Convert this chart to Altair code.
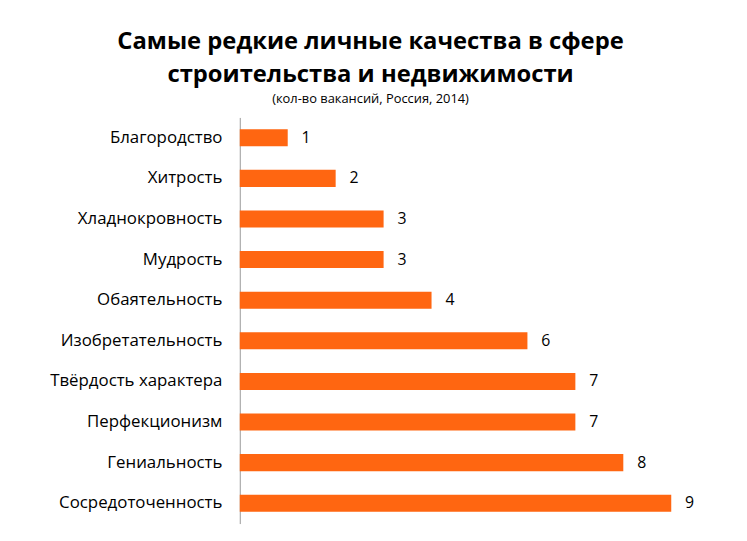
import altair as alt
import pandas as pd

cats = ["Благородство", "Хитрость", "Хладнокровность", "Мудрость", "Обаятельность",
        "Изобретательность", "Твёрдость характера", "Перфекционизм", "Гениальность",
        "Сосредоточенность"]
vals = [1, 2, 3, 3, 4, 6, 7, 7, 8, 9]
df = pd.DataFrame({"cat": cats, "val": vals})

F = "Open Sans"
y = alt.Y("cat:N", sort=cats, title=None,
          scale=alt.Scale(paddingInner=0.58, paddingOuter=0.29),
          axis=alt.Axis(ticks=False, labelFontSize=17, labelColor="#000", labelFont=F,
                        labelPadding=18, domainColor="#999", labelLimit=300))
x = alt.X("val:Q", scale=alt.Scale(domain=[0, 10]), axis=None)

bars = alt.Chart(df).mark_bar(color="#FF6611").encode(x=x, y=y)
text = alt.Chart(df).mark_text(align="left", dx=14, fontSize=16, font=F, color="#000").encode(
    x=x, y=y, text="val:Q")

chart = (bars + text).properties(
    width=484, height=410,
    autosize=alt.AutoSizeParams(type="none"),
    padding={"left": 234, "top": 108, "right": 20, "bottom": 5},
    title=alt.TitleParams(
        ["Самые редкие личные качества в сфере", "строительства и недвижимости"],
        subtitle="(кол-во вакансий, Россия, 2014)",
        font=F, fontSize=24, fontWeight="bold", color="#000", lineHeight=33,
        subtitleFont=F, subtitleFontSize=13, subtitleColor="#000", subtitlePadding=6,
        anchor="middle", frame="group", dx=-110, offset=12),
).configure_view(stroke=None)

chart.save("out.html", embed_options={"renderer": "svg", "actions": False})
